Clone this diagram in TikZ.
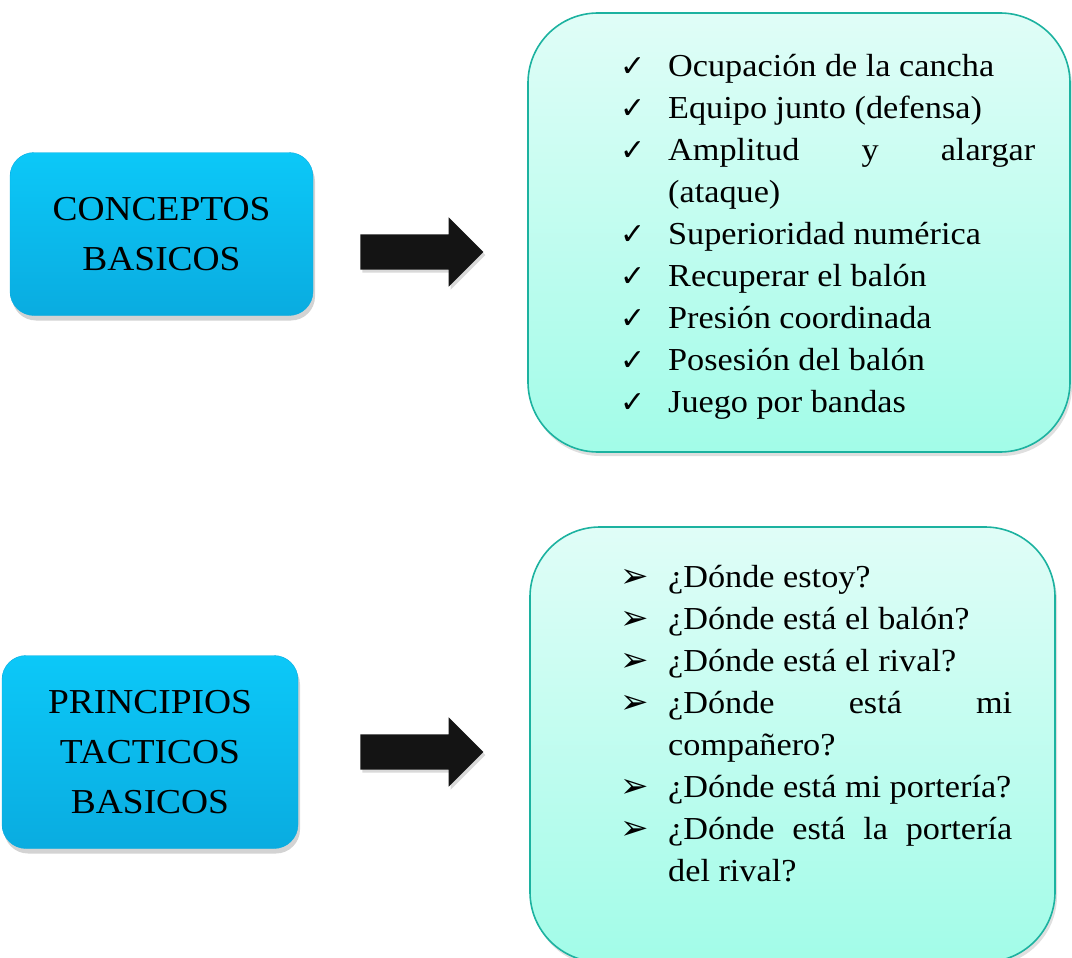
\documentclass[tikz,border=0pt]{standalone}
\usepackage{fontspec}
\setmainfont[FakeStretch=1.07]{Liberation Serif}
\newfontfamily\symfont{DejaVu Sans}
\usetikzlibrary{shapes.arrows,shadows,positioning}

\definecolor{cyantop}{RGB}{12,200,248}
\definecolor{cyanbot}{RGB}{10,172,224}
\definecolor{minttop}{RGB}{224,253,247}
\definecolor{mintbot}{RGB}{162,252,232}
\definecolor{mintline}{RGB}{28,178,160}

\newcommand{\tickit}{\makebox[48pt][l]{\symfont\fontsize{30}{30}\selectfont ✓}}
\newcommand{\pointit}{\makebox[48pt][l]{\symfont\fontsize{34}{34}\selectfont ➢}}
\newcommand{\hangit}{\hspace*{48pt}}

\begin{document}
\begin{tikzpicture}[x=1pt,y=-1pt,node distance=45pt]
  \tikzstyle{topic}=[draw=cyanbot, rounded corners=24pt, top color=cyantop, bottom color=cyanbot,
    align=center, font=\fontsize{35}{50}\selectfont,
    drop shadow={shadow xshift=2pt, shadow yshift=-5pt, opacity=.35}]
  \tikzstyle{listbox}=[draw=mintline, line width=1.6pt, rounded corners=70pt, top color=minttop,
    bottom color=mintbot, drop shadow={shadow xshift=2pt, shadow yshift=-4pt, opacity=.25}]
  \tikzstyle{bigarrow}=[single arrow, fill=black!92, inner xsep=0pt, inner ysep=17.5pt,
    minimum height=123pt, single arrow head extend=17pt,
    drop shadow={shadow xshift=2pt, shadow yshift=-3pt, opacity=.3}]
  \tikzstyle{listtext}=[anchor=north west, inner sep=0pt, align=left, font=\fontsize{32}{42}\selectfont]

  \useasboundingbox (0,0) rectangle (1072,958);

  % upper row
  \node[topic, minimum width=303pt, minimum height=163pt] (conceptos) at (161.5,234) {CONCEPTOS\\BASICOS};
  \node[bigarrow] (arrA) [right=47pt of conceptos, yshift=-18pt] {};
  \node[listbox, minimum width=542pt, minimum height=439pt] (conceptosBox) at (799,232.5) {};
  \node[listtext] (conceptosList) at (620,54) {%
    \tickit Ocupación de la cancha\\
    \tickit Equipo junto (defensa)\\
    \tickit\makebox[367pt][s]{Amplitud\hfill y\hfill alargar}\\
    \hangit(ataque)\\
    \tickit Superioridad numérica\\
    \tickit Recuperar el balón\\
    \tickit Presión coordinada\\
    \tickit Posesión del balón\\
    \tickit Juego por bandas};

  % lower row
  \node[topic, minimum width=296pt, minimum height=193pt] (principios) at (150,752) {PRINCIPIOS\\TACTICOS\\BASICOS};
  \node[bigarrow] (arrB) [right=62pt of principios] {};
  \node[listbox, minimum width=525pt, minimum height=435pt] (principiosBox) at (792.5,744.5) {};
  \node[listtext] (principiosList) at (620,565) {%
    \pointit ¿Dónde estoy?\\
    \pointit ¿Dónde está el balón?\\
    \pointit ¿Dónde está el rival?\\
    \pointit\makebox[344pt][s]{¿Dónde\hfill está\hfill mi}\\
    \hangit compañero?\\
    \pointit ¿Dónde está mi portería?\\
    \pointit\makebox[344pt][s]{¿Dónde\hfill está\hfill la\hfill portería}\\
    \hangit del rival?};
\end{tikzpicture}
\end{document}
